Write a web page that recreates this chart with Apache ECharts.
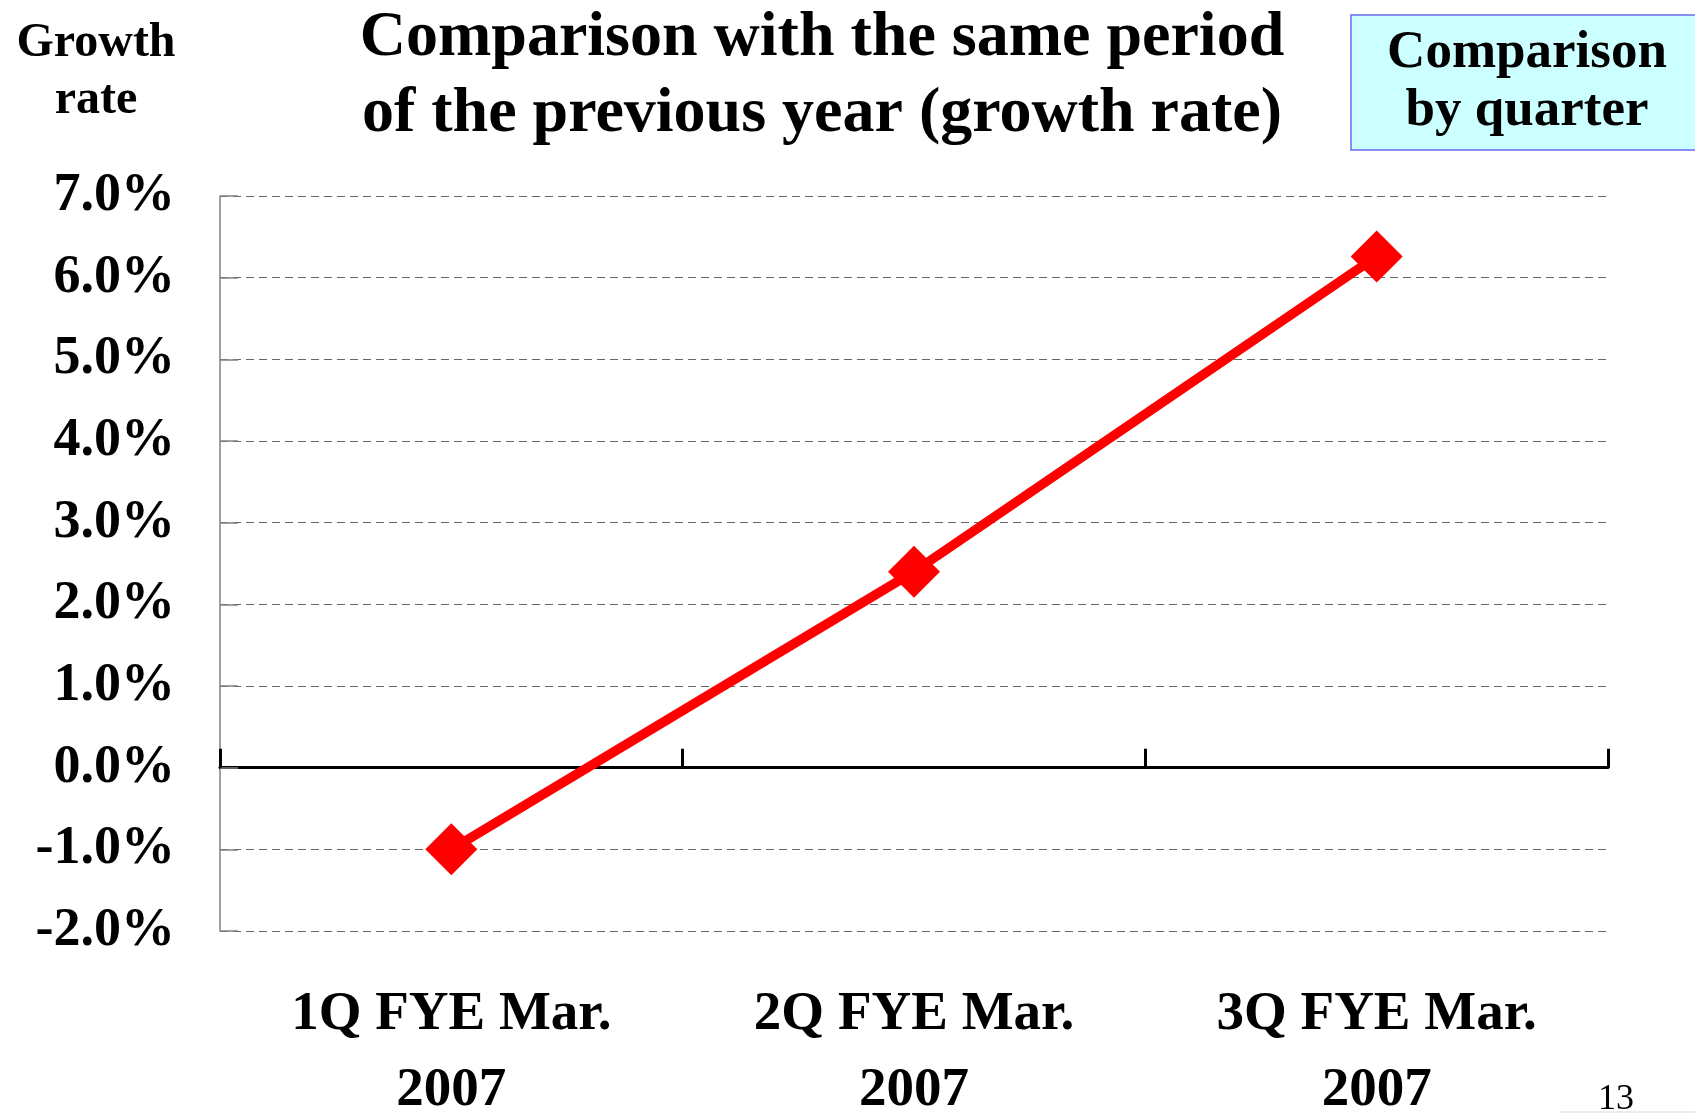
<!DOCTYPE html>
<html>
<head>
<meta charset="utf-8">
<style>
  html, body { margin: 0; padding: 0; background: #ffffff; }
  #chart { width: 1695px; height: 1113px; }
</style>
<script src="https://cdn.jsdelivr.net/npm/echarts@6/dist/echarts.min.js"></script>
</head>
<body>
<div id="chart"></div>
<script>
// Quarterly year-on-year growth rate (%)
const quarters = ['1Q FYE Mar.\n2007', '2Q FYE Mar.\n2007', '3Q FYE Mar.\n2007'];
const growthRate = [-1.0, 2.4, 6.26];
const yMin = -2;
const yMax = 7;
const yStep = 1;

const serif = '"Liberation Serif", "Times New Roman", serif';

const chart = echarts.init(document.getElementById('chart'), null, { renderer: 'canvas' });

chart.setOption({
  backgroundColor: '#ffffff',
  animation: false,
  title: [
    {
      text: 'Comparison with the same period\nof the previous year (growth rate)',
      left: 817, top: -5, textAlign: 'center',
      textStyle: { fontFamily: serif, fontWeight: 'bold', fontSize: 64, lineHeight: 76, color: '#000' }
    },
    {
      text: 'Growth\nrate',
      left: 91, top: 10, textAlign: 'center',
      textStyle: { fontFamily: serif, fontWeight: 'bold', fontSize: 48, lineHeight: 57, color: '#000' }
    },
    {
      text: 'Comparison\nby quarter',
      left: 1522, top: 19, textAlign: 'center', z: 10,
      textStyle: { fontFamily: serif, fontWeight: 'bold', fontSize: 53, lineHeight: 58, color: '#000' }
    },
    {
      text: '13',
      left: 1611, top: 1077, textAlign: 'center',
      textStyle: { fontFamily: serif, fontWeight: 'normal', fontSize: 36, lineHeight: 36, color: '#000' }
    }
  ],
  graphic: [
    {
      type: 'rect', z: 1,
      shape: { x: 1351, y: 15, width: 360, height: 135 },
      style: { fill: '#CCFFFF', stroke: '#6B6BF0', lineWidth: 1.5 }
    },
    {
      type: 'rect', z: 1,
      shape: { x: 1560, y: 1111, width: 140, height: 2 },
      style: { fill: '#E3F2E3' }
    }
  ],
  grid: { left: 220, right: 87, top: 196, bottom: 182, containLabel: false, outerBoundsMode: 'none' },
  xAxis: [
    {
      type: 'category',
      data: quarters,
      position: 'bottom',
      boundaryGap: true,
      axisLine: { show: false, onZero: false },
      axisTick: { show: false },
      splitLine: { show: false },
      axisLabel: {
        interval: 0, margin: 46,
        fontFamily: serif, fontWeight: 'bold', fontSize: 55, lineHeight: 76, color: '#000'
      }
    },
    {
      type: 'category',
      data: quarters,
      position: 'bottom',
      boundaryGap: true,
      axisLine: { show: true, onZero: true, lineStyle: { color: '#000', width: 3 } },
      axisTick: { show: true, inside: true, length: 19, interval: 0, lineStyle: { color: '#000', width: 3 } },
      axisLabel: { show: false },
      splitLine: { show: false }
    }
  ],
  yAxis: {
    type: 'value',
    min: yMin, max: yMax, interval: yStep,
    axisLine: { show: true, lineStyle: { color: '#808080', width: 1.5 } },
    axisTick: { show: true, inside: true, length: 18, lineStyle: { color: '#808080', width: 1.5 } },
    splitLine: { show: true, lineStyle: { color: '#666', width: 1, type: [8, 5] } },
    axisLabel: {
      margin: 45,
      fontFamily: serif, fontWeight: 'bold', fontSize: 54, color: '#000',
      formatter: v => v.toFixed(1) + '%'
    }
  },
  series: [
    {
      type: 'line',
      xAxisIndex: 0,
      data: growthRate,
      z: 5,
      symbol: 'diamond',
      symbolSize: 52,
      lineStyle: { color: '#FF0000', width: 9.5 },
      itemStyle: { color: '#FF0000' }
    }
  ]
});
</script>
</body>
</html>
